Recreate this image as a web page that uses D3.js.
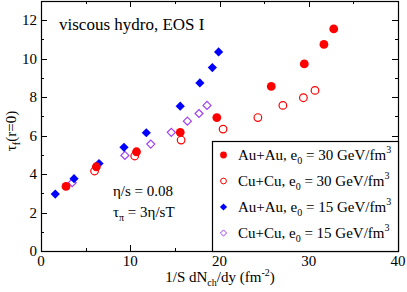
<!DOCTYPE html>
<html>
<head>
<meta charset="utf-8">
<script src="https://cdn.jsdelivr.net/npm/d3@7"></script>
<style>
  body { margin: 0; background: #fff; }
  text { font-family: "Liberation Serif", "DejaVu Serif", serif; }
</style>
</head>
<body>
<div id="chart"></div>
<script>
// data: [1/S dNch/dy, tau_f(r=0)]
const auAu30 = [[2.8, 3.36], [6.2, 4.38], [10.7, 5.16], [15.6, 6.17], [19.7, 6.94],
                [25.8, 8.56], [29.5, 9.73], [31.7, 10.74], [32.8, 11.55]];
const cuCu30 = [[6.0, 4.16], [10.5, 4.94], [15.7, 5.77], [20.4, 6.34], [24.3, 6.94],
                [27.1, 7.57], [29.4, 7.97], [30.7, 8.35]];
const auAu15 = [[1.6, 2.96], [3.7, 3.76], [6.5, 4.55], [9.3, 5.39], [11.8, 6.15],
                [15.6, 7.53], [17.8, 8.74], [19.2, 9.54], [19.9, 10.35]];
const cuCu15 = [[3.5, 3.55], [9.4, 4.97], [12.3, 5.56], [14.6, 6.17], [16.4, 6.75],
                [17.7, 7.15], [18.6, 7.57]];

const xTicks = [0, 10, 20, 30, 40];
const yTicks = [0, 2, 4, 6, 8, 10, 12];

const W = 407, H = 292;
const margin = { top: 1, right: 9, bottom: 41, left: 41 };

const svg = d3.select('#chart').append('svg')
  .attr('width', W).attr('height', H);

const x = d3.scaleLinear().domain([0, 40]).range([margin.left, W - margin.right]);
const y = d3.scaleLinear().domain([0, 13]).range([H - margin.bottom, margin.top]);

const red = '#ff0000', blue = '#0000ff', violet = '#a040f0';

// ticks (inward, on all four sides)
const g = svg.append('g').attr('stroke', '#000').attr('stroke-width', 1);
const x0 = x(0), x1 = x(40), y0 = y(0), y1 = y(13);
d3.range(0, 41, 5).forEach(v => {
  const len = v % 10 === 0 ? 6 : 3;
  const px = Math.round(x(v)) + 0.5;
  g.append('line').attr('x1', px).attr('x2', px).attr('y1', y0).attr('y2', y0 - len);
  g.append('line').attr('x1', px).attr('x2', px).attr('y1', y1).attr('y2', y1 + len);
});
d3.range(0, 14, 1).forEach(v => {
  const len = v % 2 === 0 ? 6 : 3;
  const py = Math.round(y(v)) + 0.5;
  g.append('line').attr('y1', py).attr('y2', py).attr('x1', x0).attr('x2', x0 + len);
  g.append('line').attr('y1', py).attr('y2', py).attr('x1', x1).attr('x2', x1 - len);
});

svg.append('rect')
  .attr('x', Math.round(x0) + 0.5).attr('y', Math.round(y1) + 0.5)
  .attr('width', Math.round(x1) - Math.round(x0)).attr('height', Math.round(y0) - Math.round(y1))
  .attr('fill', 'none').attr('stroke', '#000').attr('stroke-width', 1.2);

// tick labels
svg.append('g').selectAll('text').data(xTicks).enter().append('text')
  .attr('x', d => x(d)).attr('y', y0 + 15)
  .attr('text-anchor', 'middle').attr('font-size', 15).text(d => d);
svg.append('g').selectAll('text').data(yTicks).enter().append('text')
  .attr('x', x0 - 4).attr('y', d => y(d) + 5)
  .attr('text-anchor', 'end').attr('font-size', 15).text(d => d);

// axis titles
const xt = svg.append('text').attr('x', 220).attr('y', 282)
  .attr('text-anchor', 'middle').attr('font-size', 15);
xt.append('tspan').text('1/S dN');
xt.append('tspan').attr('font-size', 10).attr('dy', 4).text('ch');
xt.append('tspan').attr('dy', -4).text('/dy (fm');
xt.append('tspan').attr('font-size', 10).attr('dy', -6).text('-2');
xt.append('tspan').attr('dy', 6).text(')');

const yt = svg.append('text').attr('transform', 'translate(16,131) rotate(-90)')
  .attr('text-anchor', 'middle').attr('font-size', 15);
yt.append('tspan').text('τ');
yt.append('tspan').attr('font-size', 10).attr('dy', 4).text('f');
yt.append('tspan').attr('dy', -4).text('(r=0)');

// annotations
svg.append('text').attr('x', 59).attr('y', 30).attr('font-size', 17).text('viscous hydro, EOS I');
svg.append('text').attr('x', 113).attr('y', 196).attr('font-size', 15).text('η/s = 0.08');
const tp = svg.append('text').attr('x', 113).attr('y', 217).attr('font-size', 15);
tp.append('tspan').text('τ');
tp.append('tspan').attr('font-size', 10).attr('dy', 4).text('π');
tp.append('tspan').attr('dy', -4).text(' = 3η/sT');

// markers
const diamond = r => `M0,${-r}L${r},0L0,${r}L${-r},0Z`;
function drawSeries(data, kind, color, r) {
  const s = svg.append('g').selectAll('path').data(data).enter();
  if (kind === 'circle' || kind === 'ocircle') {
    s.append('circle').attr('cx', d => x(d[0])).attr('cy', d => y(d[1]))
      .attr('r', kind === 'circle' ? r : r - 0.6)
      .attr('fill', kind === 'circle' ? color : 'none')
      .attr('stroke', color).attr('stroke-width', kind === 'circle' ? 0 : 1.2);
  } else {
    s.append('path').attr('transform', d => `translate(${x(d[0])},${y(d[1])})`)
      .attr('d', diamond(kind === 'diamond' ? r : r - 0.6))
      .attr('fill', kind === 'diamond' ? color : 'none')
      .attr('stroke', color).attr('stroke-width', kind === 'diamond' ? 0 : 1.2);
  }
}
drawSeries(cuCu15, 'odiamond', violet, 4.6);
drawSeries(auAu15, 'diamond', blue, 4.6);
drawSeries(cuCu30, 'ocircle', red, 4.4);
drawSeries(auAu30, 'circle', red, 4.4);

// legend
const legend = [
  { label: 'Au+Au', e: '30', kind: 'circle', color: red },
  { label: 'Cu+Cu', e: '30', kind: 'ocircle', color: red },
  { label: 'Au+Au', e: '15', kind: 'diamond', color: blue },
  { label: 'Cu+Cu', e: '15', kind: 'odiamond', color: violet }
];
svg.append('rect').attr('x', 212.5).attr('y', 141.5)
  .attr('width', Math.round(x1) - 212).attr('height', Math.round(y0) - 141)
  .attr('fill', '#fff').attr('stroke', '#000').attr('stroke-width', 1.2);
legend.forEach((d, i) => {
  const cy = 155 + i * 26;
  const lg = svg.append('g');
  if (d.kind === 'circle' || d.kind === 'ocircle') {
    lg.append('circle').attr('cx', 223.5).attr('cy', cy).attr('r', d.kind === 'circle' ? 3.4 : 2.9)
      .attr('fill', d.kind === 'circle' ? d.color : 'none').attr('stroke', d.color)
      .attr('stroke-width', d.kind === 'circle' ? 0 : 1);
  } else {
    lg.append('path').attr('transform', `translate(223.5,${cy})`)
      .attr('d', diamond(d.kind === 'diamond' ? 3.6 : 3.1))
      .attr('fill', d.kind === 'diamond' ? d.color : 'none').attr('stroke', d.color)
      .attr('stroke-width', d.kind === 'diamond' ? 0 : 1);
  }
  const t = lg.append('text').attr('x', 238).attr('y', cy + 5).attr('font-size', 15);
  t.append('tspan').text(d.label + ', e');
  t.append('tspan').attr('font-size', 10).attr('dy', 4).text('0');
  t.append('tspan').attr('dy', -4).text(' = ' + d.e + ' GeV/fm');
  t.append('tspan').attr('font-size', 10).attr('dy', -7).text('3');
});
</script>
</body>
</html>
